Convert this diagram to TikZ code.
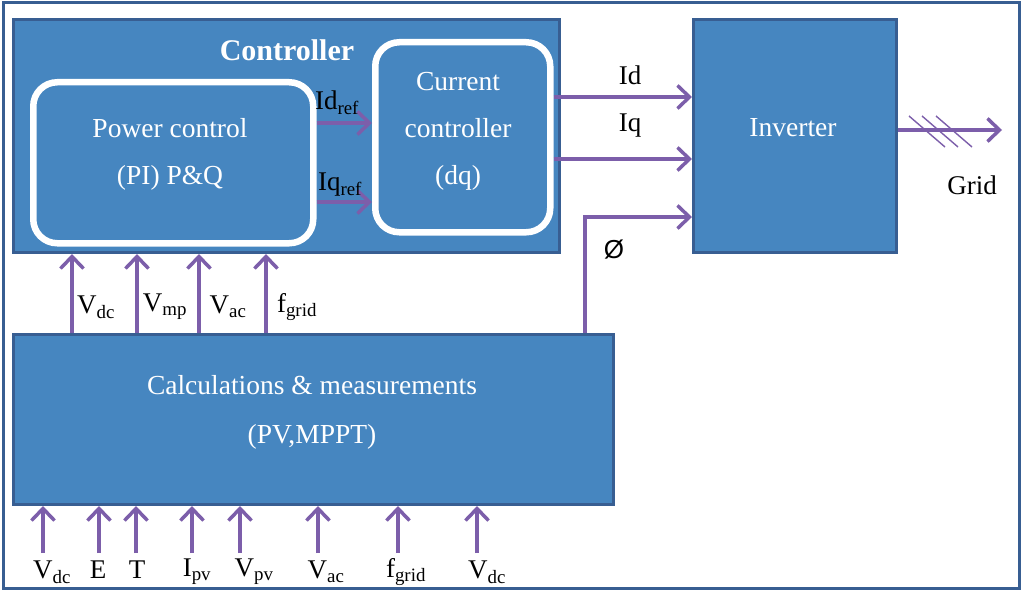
\documentclass[tikz,border=0pt]{standalone}
\usepackage{fontspec}
\setmainfont{Liberation Serif}
\newfontfamily\sansf{Liberation Sans}
\usetikzlibrary{arrows.meta}
\definecolor{boxblue}{RGB}{70,134,192}
\definecolor{edgeblue}{RGB}{56,94,146}
\definecolor{arrowpurple}{RGB}{124,94,170}
\begin{document}
\begin{tikzpicture}[x=1pt,y=-1pt,
  blk/.style={draw=edgeblue, fill=boxblue, line width=3pt, anchor=north west, inner sep=0pt},
  inner/.style={draw=white, fill=boxblue, line width=6.5pt, rounded corners=24pt, anchor=north west, inner sep=0pt},
  arr/.style={draw=arrowpurple, line width=4pt, -{Straight Barb[length=12pt,width=23pt,line width=3.5pt]}},
  tick/.style={draw=arrowpurple, line width=1.4pt},
  lbl/.style={font=\fontsize{27}{31}\selectfont, text=black, inner sep=0pt},
  wlbl/.style={font=\fontsize{27.5}{31}\selectfont, text=white, inner sep=0pt}]
\useasboundingbox (0,0) rectangle (1022,591);
\fill[white] (0,0) rectangle (1022,591);
\draw[edgeblue, line width=3pt] (3,3) rectangle (1019,588);

% boxes
\node[blk, minimum width=546pt, minimum height=233pt] (ctrl) at (12,18) {};
\node[inner, minimum width=280pt, minimum height=161pt] (pc) at (30,79) {};
\node[inner, minimum width=175pt, minimum height=190pt] (cc) at (372,39) {};
\node[blk, minimum width=203pt, minimum height=233pt] (inv) at (692,18) {};
\node[blk, minimum width=600pt, minimum height=170pt] (calc) at (12,333) {};

% box texts
\node[wlbl, font=\fontsize{30}{34}\selectfont\bfseries] (ctitle) at (287,50) {Controller};
\node[wlbl] (pc1) at (170,128) {Power control};
\node[wlbl] (pc2) at (170,178) {(PI) P\&Q};
\node[wlbl] (cc1) at (458,82) {Current};
\node[wlbl] (cc2) at (458,128) {controller};
\node[wlbl] (cc3) at (458,178) {(dq)};
\node[wlbl] (invt) at (793,128) {Inverter};
\node[wlbl] (ca1) at (312,385) {Calculations \& measurements};
\node[wlbl] (ca2) at (312,437) {(PV,MPPT)};

% helper coordinates
\coordinate (yidr) at (0,123);
\coordinate (yiqr) at (0,202);
\coordinate (yid) at (0,97);
\coordinate (yiq) at (0,159);
\coordinate (yphi) at (0,217);
\coordinate (xphi) at (585,0);
\coordinate (yout) at (0,130);
\coordinate (gridend) at (1002,130);

% controller internal arrows
\draw[arr] (pc.east |- yidr) -- (cc.west |- yidr);
\draw[arr] (pc.east |- yiqr) -- (cc.west |- yiqr);
\node[lbl] (lidr) at (337,103) {Id\textsubscript{ref}};
\node[lbl] (liqr) at (340,185) {Iq\textsubscript{ref}};

% to inverter
\draw[arr] (cc.east |- yid) -- (inv.west |- yid);
\draw[arr] (cc.east |- yiq) -- (inv.west |- yiq);
\node[lbl] (lid) at (630,75) {Id};
\node[lbl] (liq) at (630,126) {Iq};
\draw[arr] (calc.north -| xphi) |- (inv.west |- yphi);
\node[lbl, font=\fontsize{26}{30}\sansf] (lphi) at (614,250) {Ø};

% output
\draw[arr] (inv.east |- yout) -- (gridend);
\draw[tick] (909,116) -- (945,147);
\draw[tick] (922,116) -- (958,147);
\draw[tick] (936,116) -- (972,147);
\node[lbl] (lgrid) at (972,185) {Grid};

% calc -> controller
\foreach \x [count=\i] in {72,137,199,266}{
  \coordinate (u\i) at (\x,0);
  \draw[arr] (calc.north -| u\i) -- (ctrl.south -| u\i);
}
\node[lbl] (lu1) at (96,307) {V\textsubscript{dc}};
\node[lbl] (lu2) at (165,307) {V\textsubscript{mp}};
\node[lbl] (lu3) at (228,307) {V\textsubscript{ac}};
\node[lbl] (lu4) at (297,307) {f\textsubscript{grid}};

% inputs
\foreach \x [count=\i] in {43,99,136,192,240,318,398,477}{
  \coordinate (b\i) at (\x,553);
  \draw[arr] (b\i) -- (calc.south -| b\i);
}
\node[lbl] (lb1) at (52,572) {V\textsubscript{dc}};
\node[lbl] (lb2) at (98,570) {E};
\node[lbl] (lb3) at (137,570) {T};
\node[lbl] (lb4) at (197,572) {I\textsubscript{pv}};
\node[lbl] (lb5) at (254,572) {V\textsubscript{pv}};
\node[lbl] (lb6) at (326,572) {V\textsubscript{ac}};
\node[lbl] (lb7) at (406,572) {f\textsubscript{grid}};
\node[lbl] (lb8) at (487,572) {V\textsubscript{dc}};
\end{tikzpicture}
\end{document}
